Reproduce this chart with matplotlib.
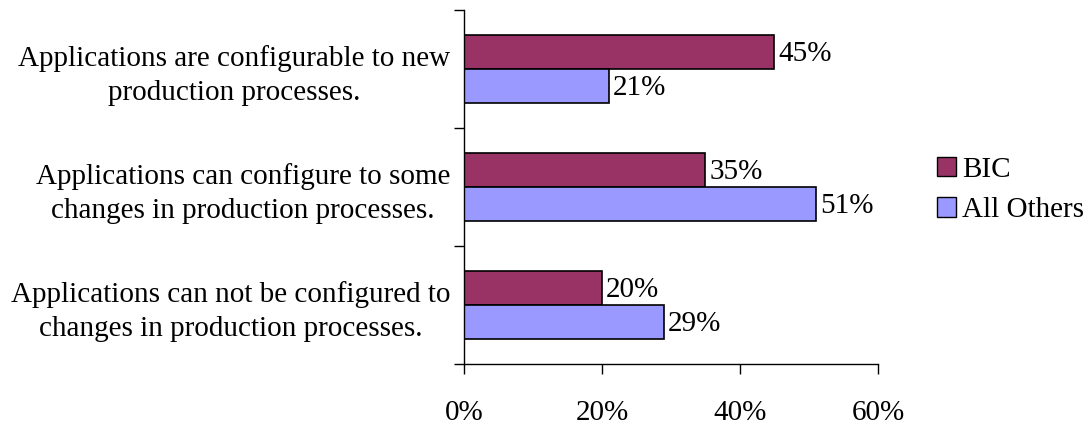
import matplotlib
matplotlib.use("Agg")
import matplotlib.pyplot as plt
import numpy as np
from matplotlib.ticker import FixedLocator, FuncFormatter
from matplotlib.patches import Patch

categories = [
    "Applications are configurable to new\nproduction processes.",
    "Applications can configure to some\nchanges in production processes.",
    "Applications can not be configured to\nchanges in production processes.",
]
bic = [45, 35, 20]
others = [21, 51, 29]
series_names = ["BIC", "All Others"]
xticks = [0, 20, 40, 60]

plt.rcParams['font.family'] = ['Liberation Serif', 'DejaVu Serif']
FS = 21

fig = plt.figure(figsize=(10.88, 4.26), dpi=100)
ax = fig.add_axes([464/1088, 1-364/426, (878-464)/1088, (364-10)/426])

n = len(categories)
pos = np.arange(n)[::-1]  # top category at highest y
h = 0.29
c_bic = "#993366"
c_oth = "#9999FF"
b1 = ax.barh(pos + h/2, bic, height=h, color=c_bic, edgecolor="black", linewidth=1.2)
b2 = ax.barh(pos - h/2, others, height=h, color=c_oth, edgecolor="black", linewidth=1.2)

for rect, v in zip(list(b1) + list(b2), bic + others):
    ax.text(rect.get_width() + 0.6, rect.get_y() + rect.get_height()/2 - 0.02, f"{v}%",
            va="center", ha="left", fontsize=FS)

ax.set_xlim(0, 60)
ax.set_ylim(-0.5, n - 0.5)
ax.set_xticks(xticks)
ax.xaxis.set_major_formatter(FuncFormatter(lambda x, p: f"{x:.0f}%"))
ax.tick_params(axis="x", direction="out", length=7, width=1, pad=19, labelsize=FS)

ax.set_yticks(pos)
ax.set_yticklabels(categories, fontsize=FS, multialignment="center", linespacing=1.4)
ax.tick_params(axis="y", which="major", length=0, pad=10)
ax.yaxis.set_minor_locator(FixedLocator(np.arange(-0.5, n, 1.0)))
ax.tick_params(axis="y", which="minor", length=7, width=1, direction="out")

for s in ["top", "right"]:
    ax.spines[s].set_visible(False)
for s in ["left", "bottom"]:
    ax.spines[s].set_linewidth(1)

handles = [Patch(facecolor=c_bic, edgecolor="black", label=series_names[0]),
           Patch(facecolor=c_oth, edgecolor="black", label=series_names[1])]
fig.legend(handles=handles, loc="center left", bbox_to_anchor=(937/1088, 1-190/426),
           frameon=False, fontsize=FS, handlelength=0.65, handleheight=0.65,
           handletextpad=0.2, labelspacing=0.5, borderaxespad=0, borderpad=0)

fig.savefig("out.png", dpi=100)
